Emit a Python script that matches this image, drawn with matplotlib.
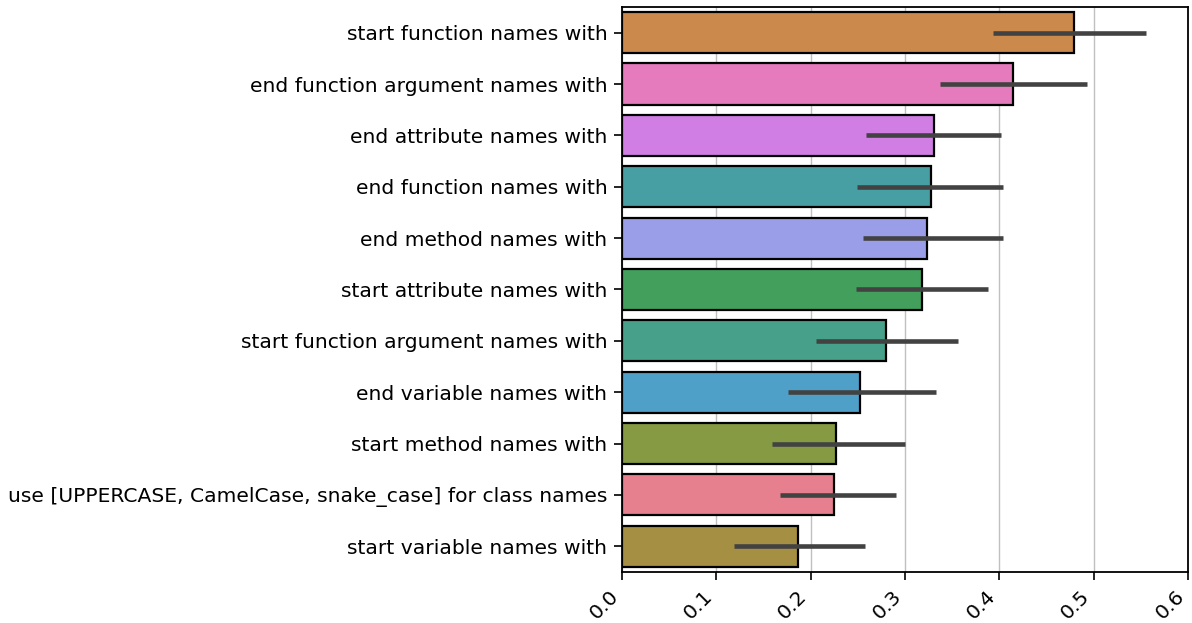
import matplotlib
matplotlib.use("Agg")
import matplotlib.pyplot as plt

labels = [
    "start function names with",
    "end function argument names with",
    "end attribute names with",
    "end function names with",
    "end method names with",
    "start attribute names with",
    "start function argument names with",
    "end variable names with",
    "start method names with",
    "use [UPPERCASE, CamelCase, snake_case] for class names",
    "start variable names with",
]
values = [0.479, 0.4147, 0.3304, 0.3272, 0.3233, 0.3184, 0.2799, 0.2527, 0.2266, 0.2243, 0.1863]
err_lo = [0.393, 0.337, 0.2583, 0.2491, 0.2558, 0.2484, 0.2055, 0.1757, 0.159, 0.168, 0.119]
err_hi = [0.5555, 0.4927, 0.4015, 0.4039, 0.4042, 0.3883, 0.3557, 0.3325, 0.300, 0.291, 0.258]
colors = ["#cb8a4b", "#e57abd", "#d07ee3", "#479fa3", "#9a9ee8", "#42a05c",
          "#46a08a", "#4ea0c8", "#859a43", "#e6808f", "#a48f42"]

fig = plt.figure(figsize=(11.92, 6.23), dpi=100)
ax = fig.add_axes([0.5218, 0.0819, 0.4748, 0.9069])

y = list(range(len(labels)))
ax.barh(y, values, height=0.8, color=colors, edgecolor="black", linewidth=1.6, zorder=2)
for i in range(len(labels)):
    ax.plot([err_lo[i], err_hi[i]], [y[i], y[i]], color="#424242", lw=3.3,
            solid_capstyle="butt", zorder=3)

ax.set_yticks(y)
ax.set_yticklabels(labels, fontsize=14.6)
ax.set_ylim(len(labels) - 0.5, -0.5)
ax.set_xlim(0, 0.6)
ax.set_xticks([0.0, 0.1, 0.2, 0.3, 0.4, 0.5, 0.6])
ax.set_xticklabels(["0.0", "0.1", "0.2", "0.3", "0.4", "0.5", "0.6"], fontsize=14.6,
                   rotation=45, ha="right")
ax.tick_params(length=5.5, width=1.2, pad=5)
ax.grid(axis="x", color="#c0c0c0", lw=1.0, zorder=0)
ax.set_axisbelow(True)
for s in ax.spines.values():
    s.set_linewidth(1.3)

fig.savefig("out.png", dpi=100)
